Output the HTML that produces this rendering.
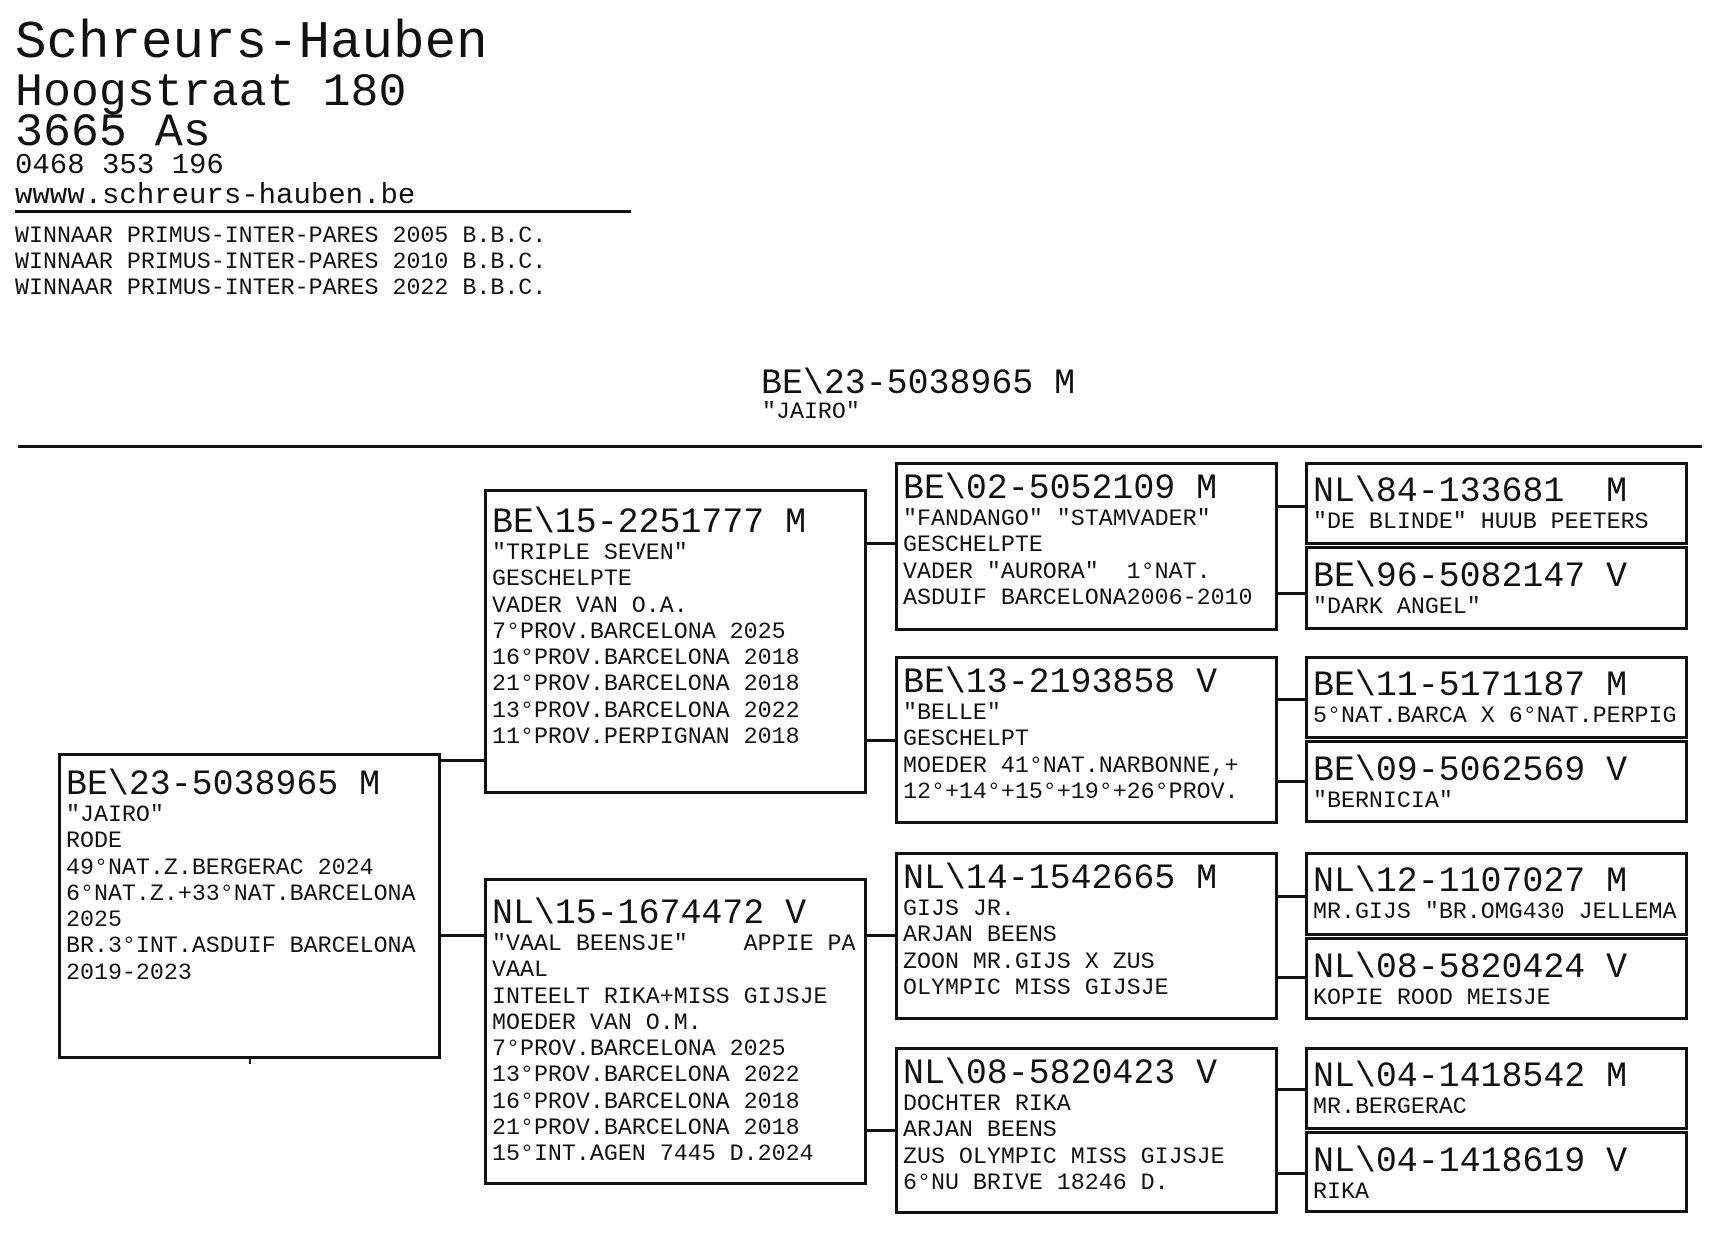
<!DOCTYPE html>
<html><head><meta charset="utf-8"><style>
*{margin:0;padding:0;box-sizing:border-box}
body{width:1720px;height:1233px;background:#fff;position:relative;overflow:hidden;font-family:"Liberation Mono","DejaVu Sans Mono",monospace;color:#111}
.t{position:absolute;white-space:pre;left:15px}
.b{position:absolute;border:3px solid #111;padding-left:5px;overflow:hidden;white-space:pre}
.b .h{font-size:34.9px;line-height:32px;height:32px}
.b .s{font-size:23.3px;line-height:26.3px;height:26.3px}
.l{position:absolute;background:#111}
</style></head><body>
<div class="t" style="top:15px;font-size:52.5px;line-height:56px">Schreurs-Hauben</div>
<div class="t" style="top:68px;font-size:46.6px;line-height:50px">Hoogstraat 180</div>
<div class="t" style="top:108px;font-size:46.6px;line-height:50px">3665 As</div>
<div class="t" style="top:150px;font-size:29px;line-height:32px">0468 353 196</div>
<div class="t" style="top:180px;font-size:29px;line-height:32px">wwww.schreurs-hauben.be</div>
<div class="l" style="left:15px;top:210px;width:616px;height:3px"></div>
<div class="t" style="top:223px;font-size:23.3px;line-height:26px">WINNAAR PRIMUS-INTER-PARES 2005 B.B.C.</div>
<div class="t" style="top:249px;font-size:23.3px;line-height:26px">WINNAAR PRIMUS-INTER-PARES 2010 B.B.C.</div>
<div class="t" style="top:275px;font-size:23.3px;line-height:26px">WINNAAR PRIMUS-INTER-PARES 2022 B.B.C.</div>
<div class="t" style="left:761px;top:368px;font-size:34.9px;line-height:34px">BE\23-5038965 M</div>
<div class="t" style="left:762px;top:399px;font-size:23.3px;line-height:26px">"JAIRO"</div>
<div class="l" style="left:18px;top:445px;width:1684px;height:3px"></div>

<!-- connectors -->
<div class="l" style="left:438px;top:759px;width:48px;height:3px"></div>
<div class="l" style="left:438px;top:934px;width:48px;height:3px"></div>
<div class="l" style="left:249px;top:1056px;width:2px;height:8px"></div>
<div class="l" style="left:864px;top:542px;width:33px;height:3px"></div>
<div class="l" style="left:864px;top:739px;width:33px;height:3px"></div>
<div class="l" style="left:864px;top:934px;width:33px;height:3px"></div>
<div class="l" style="left:864px;top:1129px;width:33px;height:3px"></div>
<div class="l" style="left:1275px;top:505px;width:32px;height:3px"></div>
<div class="l" style="left:1275px;top:592px;width:32px;height:3px"></div>
<div class="l" style="left:1275px;top:698px;width:32px;height:3px"></div>
<div class="l" style="left:1275px;top:780px;width:32px;height:3px"></div>
<div class="l" style="left:1275px;top:895px;width:32px;height:3px"></div>
<div class="l" style="left:1275px;top:976px;width:32px;height:3px"></div>
<div class="l" style="left:1275px;top:1088px;width:32px;height:3px"></div>
<div class="l" style="left:1275px;top:1172px;width:32px;height:3px"></div>

<!-- root -->
<div class="b" style="left:58px;top:753px;width:383px;height:306px;padding-top:14px"><div class="h">BE\23-5038965 M</div><div class="s">"JAIRO"</div><div class="s">RODE</div><div class="s">49°NAT.Z.BERGERAC 2024</div><div class="s">6°NAT.Z.+33°NAT.BARCELONA</div><div class="s">2025</div><div class="s">BR.3°INT.ASDUIF BARCELONA</div><div class="s">2019-2023</div></div>

<!-- gen2 -->
<div class="b" style="left:484px;top:489px;width:383px;height:305px;padding-top:16px"><div class="h">BE\15-2251777 M</div><div class="s">"TRIPLE SEVEN"</div><div class="s">GESCHELPTE</div><div class="s">VADER VAN O.A.</div><div class="s">7°PROV.BARCELONA 2025</div><div class="s">16°PROV.BARCELONA 2018</div><div class="s">21°PROV.BARCELONA 2018</div><div class="s">13°PROV.BARCELONA 2022</div><div class="s">11°PROV.PERPIGNAN 2018</div></div>
<div class="b" style="left:484px;top:878px;width:383px;height:307px;padding-top:18px"><div class="h">NL\15-1674472 V</div><div class="s">"VAAL BEENSJE"    APPIE PA</div><div class="s">VAAL</div><div class="s">INTEELT RIKA+MISS GIJSJE</div><div class="s">MOEDER VAN O.M.</div><div class="s">7°PROV.BARCELONA 2025</div><div class="s">13°PROV.BARCELONA 2022</div><div class="s">16°PROV.BARCELONA 2018</div><div class="s">21°PROV.BARCELONA 2018</div><div class="s">15°INT.AGEN 7445 D.2024</div></div>

<!-- gen3 -->
<div class="b" style="left:895px;top:462px;width:383px;height:169px;padding-top:9px"><div class="h">BE\02-5052109 M</div><div class="s">"FANDANGO" "STAMVADER"</div><div class="s">GESCHELPTE</div><div class="s">VADER "AURORA"  1°NAT.</div><div class="s">ASDUIF BARCELONA2006-2010</div></div>
<div class="b" style="left:895px;top:656px;width:383px;height:168px;padding-top:9px"><div class="h">BE\13-2193858 V</div><div class="s">"BELLE"</div><div class="s">GESCHELPT</div><div class="s">MOEDER 41°NAT.NARBONNE,+</div><div class="s">12°+14°+15°+19°+26°PROV.</div></div>
<div class="b" style="left:895px;top:852px;width:383px;height:168px;padding-top:9px"><div class="h">NL\14-1542665 M</div><div class="s">GIJS JR.</div><div class="s">ARJAN BEENS</div><div class="s">ZOON MR.GIJS X ZUS</div><div class="s">OLYMPIC MISS GIJSJE</div></div>
<div class="b" style="left:895px;top:1047px;width:383px;height:167px;padding-top:9px"><div class="h">NL\08-5820423 V</div><div class="s">DOCHTER RIKA</div><div class="s">ARJAN BEENS</div><div class="s">ZUS OLYMPIC MISS GIJSJE</div><div class="s">6°NU BRIVE 18246 D.</div></div>

<!-- gen4 -->
<div class="b" style="left:1305px;top:462px;width:383px;height:83px;padding-top:12px"><div class="h">NL\84-133681  M</div><div class="s">"DE BLINDE" HUUB PEETERS</div></div>
<div class="b" style="left:1305px;top:546px;width:383px;height:84px;padding-top:13px"><div class="h">BE\96-5082147 V</div><div class="s">"DARK ANGEL"</div></div>
<div class="b" style="left:1305px;top:656px;width:383px;height:83px;padding-top:12px"><div class="h">BE\11-5171187 M</div><div class="s">5°NAT.BARCA X 6°NAT.PERPIG</div></div>
<div class="b" style="left:1305px;top:740px;width:383px;height:83px;padding-top:13px"><div class="h">BE\09-5062569 V</div><div class="s">"BERNICIA"</div></div>
<div class="b" style="left:1305px;top:852px;width:383px;height:84px;padding-top:12px"><div class="h">NL\12-1107027 M</div><div class="s">MR.GIJS "BR.OMG430 JELLEMA</div></div>
<div class="b" style="left:1305px;top:937px;width:383px;height:83px;padding-top:13px"><div class="h">NL\08-5820424 V</div><div class="s">KOPIE ROOD MEISJE</div></div>
<div class="b" style="left:1305px;top:1047px;width:383px;height:83px;padding-top:12px"><div class="h">NL\04-1418542 M</div><div class="s">MR.BERGERAC</div></div>
<div class="b" style="left:1305px;top:1131px;width:383px;height:82px;padding-top:13px"><div class="h">NL\04-1418619 V</div><div class="s">RIKA</div></div>
</body></html>
